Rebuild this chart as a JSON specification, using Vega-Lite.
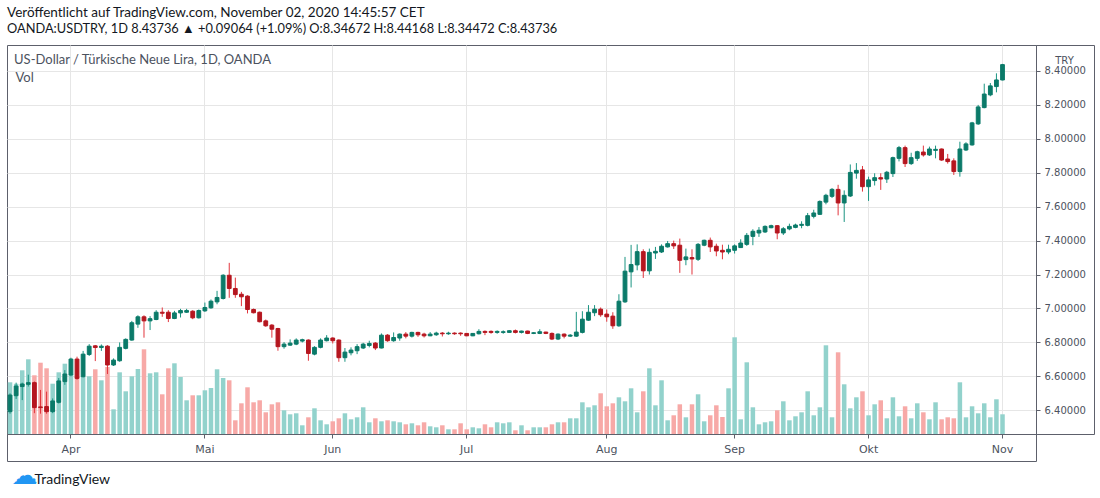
{
"$schema": "https://vega.github.io/schema/vega-lite/v6.json",
"width": 1029, "height": 389,
"autosize": {"type": "none"},
"padding": {"left": 7, "top": 45, "right": 64, "bottom": 64},
"background": "white",
"title": {"text": "Veröffentlicht auf TradingView.com, November 02, 2020 14:45:57 CET", "subtitle": "OANDA:USDTRY, 1D 8.43736 ▲ +0.09064 (+1.09%) O:8.34672 H:8.44168 L:8.34472 C:8.43736", "anchor": "start", "frame": "group", "offset": 9, "font": "Lato", "fontSize": 13.5, "fontWeight": "normal", "color": "#131722", "subtitleFont": "Lato", "subtitleFontSize": 12.8, "subtitleFontWeight": "normal", "subtitleColor": "#131722", "subtitlePadding": 3},
"config": {"view": {"stroke": "#5d606b", "strokeWidth": 1}},
"data": {"values": [
{"d":"2020-03-18","o":6.392,"h":6.50,"l":6.38,"c":6.49,"v":51700},
{"d":"2020-03-19","o":6.486,"h":6.563,"l":6.467,"c":6.543,"v":50300},
{"d":"2020-03-20","o":6.54,"h":6.563,"l":6.46,"c":6.555,"v":63700},
{"d":"2020-03-23","o":6.553,"h":6.61,"l":6.54,"c":6.563,"v":74700},
{"d":"2020-03-24","o":6.563,"h":6.57,"l":6.383,"c":6.416,"v":58700},
{"d":"2020-03-25","o":6.42,"h":6.52,"l":6.38,"c":6.416,"v":71300},
{"d":"2020-03-26","o":6.422,"h":6.51,"l":6.38,"c":6.392,"v":65700},
{"d":"2020-03-27","o":6.392,"h":6.47,"l":6.383,"c":6.455,"v":50300},
{"d":"2020-03-30","o":6.447,"h":6.59,"l":6.44,"c":6.573,"v":61700},
{"d":"2020-03-31","o":6.569,"h":6.637,"l":6.55,"c":6.614,"v":70300},
{"d":"2020-04-01","o":6.608,"h":6.71,"l":6.6,"c":6.702,"v":59700},
{"d":"2020-04-02","o":6.702,"h":6.716,"l":6.58,"c":6.588,"v":57000},
{"d":"2020-04-03","o":6.598,"h":6.75,"l":6.594,"c":6.731,"v":57000},
{"d":"2020-04-06","o":6.729,"h":6.79,"l":6.72,"c":6.778,"v":57700},
{"d":"2020-04-07","o":6.78,"h":6.785,"l":6.69,"c":6.77,"v":64700},
{"d":"2020-04-08","o":6.77,"h":6.788,"l":6.75,"c":6.778,"v":53700},
{"d":"2020-04-09","o":6.778,"h":6.784,"l":6.614,"c":6.667,"v":67000},
{"d":"2020-04-10","o":6.667,"h":6.706,"l":6.661,"c":6.696,"v":24700},
{"d":"2020-04-13","o":6.692,"h":6.8,"l":6.686,"c":6.771,"v":61700},
{"d":"2020-04-14","o":6.765,"h":6.824,"l":6.759,"c":6.818,"v":42700},
{"d":"2020-04-15","o":6.814,"h":6.927,"l":6.81,"c":6.916,"v":57700},
{"d":"2020-04-16","o":6.908,"h":6.96,"l":6.886,"c":6.951,"v":65000},
{"d":"2020-04-17","o":6.951,"h":6.96,"l":6.828,"c":6.927,"v":84700},
{"d":"2020-04-20","o":6.927,"h":6.955,"l":6.873,"c":6.94,"v":60700},
{"d":"2020-04-21","o":6.935,"h":6.99,"l":6.931,"c":6.978,"v":61700},
{"d":"2020-04-22","o":6.978,"h":7.006,"l":6.951,"c":6.972,"v":39700},
{"d":"2020-04-23","o":6.978,"h":6.99,"l":6.92,"c":6.941,"v":65700},
{"d":"2020-04-24","o":6.941,"h":6.986,"l":6.937,"c":6.974,"v":70700},
{"d":"2020-04-27","o":6.974,"h":6.998,"l":6.947,"c":6.988,"v":57000},
{"d":"2020-04-28","o":6.978,"h":6.998,"l":6.974,"c":6.988,"v":33700},
{"d":"2020-04-29","o":6.984,"h":6.99,"l":6.937,"c":6.945,"v":38700},
{"d":"2020-04-30","o":6.945,"h":6.994,"l":6.941,"c":6.988,"v":38700},
{"d":"2020-05-01","o":6.986,"h":7.035,"l":6.98,"c":7.006,"v":43700},
{"d":"2020-05-04","o":7.004,"h":7.053,"l":6.998,"c":7.043,"v":46000},
{"d":"2020-05-05","o":7.039,"h":7.104,"l":7.025,"c":7.065,"v":64700},
{"d":"2020-05-06","o":7.059,"h":7.202,"l":7.053,"c":7.196,"v":56000},
{"d":"2020-05-07","o":7.196,"h":7.269,"l":7.063,"c":7.118,"v":53700},
{"d":"2020-05-08","o":7.118,"h":7.182,"l":7.063,"c":7.082,"v":13700},
{"d":"2020-05-11","o":7.084,"h":7.098,"l":7.014,"c":7.069,"v":30700},
{"d":"2020-05-12","o":7.073,"h":7.078,"l":6.971,"c":6.994,"v":46700},
{"d":"2020-05-13","o":6.994,"h":7.0,"l":6.971,"c":6.975,"v":31700},
{"d":"2020-05-14","o":6.978,"h":6.982,"l":6.918,"c":6.922,"v":33700},
{"d":"2020-05-15","o":6.927,"h":6.935,"l":6.892,"c":6.898,"v":21700},
{"d":"2020-05-18","o":6.902,"h":6.908,"l":6.828,"c":6.878,"v":29700},
{"d":"2020-05-19","o":6.882,"h":6.886,"l":6.751,"c":6.775,"v":31700},
{"d":"2020-05-20","o":6.775,"h":6.802,"l":6.763,"c":6.79,"v":23700},
{"d":"2020-05-21","o":6.784,"h":6.818,"l":6.78,"c":6.796,"v":19700},
{"d":"2020-05-22","o":6.79,"h":6.824,"l":6.784,"c":6.814,"v":20700},
{"d":"2020-05-25","o":6.808,"h":6.822,"l":6.8,"c":6.816,"v":8700},
{"d":"2020-05-26","o":6.814,"h":6.818,"l":6.692,"c":6.735,"v":16700},
{"d":"2020-05-27","o":6.731,"h":6.778,"l":6.724,"c":6.771,"v":25700},
{"d":"2020-05-28","o":6.771,"h":6.824,"l":6.765,"c":6.814,"v":13700},
{"d":"2020-05-29","o":6.81,"h":6.843,"l":6.806,"c":6.826,"v":9700},
{"d":"2020-06-01","o":6.826,"h":6.83,"l":6.794,"c":6.81,"v":12700},
{"d":"2020-06-02","o":6.814,"h":6.818,"l":6.686,"c":6.71,"v":15700},
{"d":"2020-06-03","o":6.71,"h":6.767,"l":6.686,"c":6.743,"v":20700},
{"d":"2020-06-04","o":6.739,"h":6.771,"l":6.724,"c":6.755,"v":14700},
{"d":"2020-06-05","o":6.751,"h":6.79,"l":6.731,"c":6.775,"v":16700},
{"d":"2020-06-08","o":6.767,"h":6.798,"l":6.761,"c":6.79,"v":26700},
{"d":"2020-06-09","o":6.782,"h":6.81,"l":6.771,"c":6.794,"v":11700},
{"d":"2020-06-10","o":6.796,"h":6.802,"l":6.755,"c":6.767,"v":15700},
{"d":"2020-06-11","o":6.767,"h":6.853,"l":6.765,"c":6.843,"v":12700},
{"d":"2020-06-12","o":6.843,"h":6.849,"l":6.804,"c":6.81,"v":13700},
{"d":"2020-06-15","o":6.81,"h":6.859,"l":6.804,"c":6.829,"v":12700},
{"d":"2020-06-16","o":6.826,"h":6.853,"l":6.81,"c":6.849,"v":11700},
{"d":"2020-06-17","o":6.849,"h":6.861,"l":6.824,"c":6.837,"v":9700},
{"d":"2020-06-18","o":6.837,"h":6.863,"l":6.829,"c":6.859,"v":10700},
{"d":"2020-06-19","o":6.859,"h":6.863,"l":6.833,"c":6.845,"v":8700},
{"d":"2020-06-22","o":6.849,"h":6.857,"l":6.829,"c":6.839,"v":11700},
{"d":"2020-06-23","o":6.839,"h":6.861,"l":6.837,"c":6.849,"v":7700},
{"d":"2020-06-24","o":6.845,"h":6.863,"l":6.839,"c":6.855,"v":6700},
{"d":"2020-06-25","o":6.855,"h":6.861,"l":6.835,"c":6.851,"v":8700},
{"d":"2020-06-26","o":6.851,"h":6.863,"l":6.845,"c":6.855,"v":4700},
{"d":"2020-06-29","o":6.855,"h":6.859,"l":6.845,"c":6.851,"v":4700},
{"d":"2020-06-30","o":6.855,"h":6.859,"l":6.839,"c":6.851,"v":10700},
{"d":"2020-07-01","o":6.853,"h":6.855,"l":6.837,"c":6.839,"v":4700},
{"d":"2020-07-02","o":6.839,"h":6.855,"l":6.837,"c":6.853,"v":6700},
{"d":"2020-07-03","o":6.851,"h":6.878,"l":6.847,"c":6.865,"v":5700},
{"d":"2020-07-06","o":6.865,"h":6.871,"l":6.843,"c":6.859,"v":9700},
{"d":"2020-07-07","o":6.865,"h":6.871,"l":6.851,"c":6.859,"v":6700},
{"d":"2020-07-08","o":6.859,"h":6.871,"l":6.851,"c":6.865,"v":11700},
{"d":"2020-07-09","o":6.859,"h":6.871,"l":6.851,"c":6.863,"v":10700},
{"d":"2020-07-10","o":6.859,"h":6.871,"l":6.857,"c":6.869,"v":11700},
{"d":"2020-07-13","o":6.869,"h":6.876,"l":6.853,"c":6.859,"v":3700},
{"d":"2020-07-14","o":6.859,"h":6.869,"l":6.853,"c":6.867,"v":8700},
{"d":"2020-07-15","o":6.867,"h":6.869,"l":6.849,"c":6.853,"v":3700},
{"d":"2020-07-16","o":6.853,"h":6.861,"l":6.849,"c":6.857,"v":6700},
{"d":"2020-07-17","o":6.853,"h":6.878,"l":6.849,"c":6.863,"v":6700},
{"d":"2020-07-20","o":6.861,"h":6.863,"l":6.849,"c":6.853,"v":6700},
{"d":"2020-07-21","o":6.853,"h":6.859,"l":6.814,"c":6.82,"v":9700},
{"d":"2020-07-22","o":6.82,"h":6.853,"l":6.814,"c":6.849,"v":11700},
{"d":"2020-07-23","o":6.849,"h":6.853,"l":6.824,"c":6.837,"v":11700},
{"d":"2020-07-24","o":6.837,"h":6.849,"l":6.833,"c":6.843,"v":15700},
{"d":"2020-07-27","o":6.837,"h":6.98,"l":6.833,"c":6.861,"v":15700},
{"d":"2020-07-28","o":6.859,"h":6.984,"l":6.853,"c":6.937,"v":31700},
{"d":"2020-07-29","o":6.931,"h":7.02,"l":6.927,"c":6.978,"v":26700},
{"d":"2020-07-30","o":6.975,"h":7.02,"l":6.955,"c":6.996,"v":28700},
{"d":"2020-07-31","o":6.996,"h":7.006,"l":6.951,"c":6.963,"v":40700},
{"d":"2020-08-03","o":6.967,"h":6.994,"l":6.922,"c":6.951,"v":27700},
{"d":"2020-08-04","o":6.955,"h":6.978,"l":6.88,"c":6.898,"v":30700},
{"d":"2020-08-05","o":6.898,"h":7.084,"l":6.892,"c":7.043,"v":36700},
{"d":"2020-08-06","o":7.039,"h":7.304,"l":7.033,"c":7.22,"v":32700},
{"d":"2020-08-07","o":7.216,"h":7.375,"l":7.124,"c":7.259,"v":45700},
{"d":"2020-08-10","o":7.257,"h":7.378,"l":7.225,"c":7.335,"v":21700},
{"d":"2020-08-11","o":7.335,"h":7.349,"l":7.18,"c":7.222,"v":42700},
{"d":"2020-08-12","o":7.222,"h":7.353,"l":7.2,"c":7.331,"v":65700},
{"d":"2020-08-13","o":7.327,"h":7.363,"l":7.292,"c":7.337,"v":28700},
{"d":"2020-08-14","o":7.333,"h":7.378,"l":7.327,"c":7.367,"v":53700},
{"d":"2020-08-17","o":7.363,"h":7.398,"l":7.359,"c":7.382,"v":13700},
{"d":"2020-08-18","o":7.382,"h":7.4,"l":7.351,"c":7.369,"v":18700},
{"d":"2020-08-19","o":7.373,"h":7.412,"l":7.21,"c":7.284,"v":29700},
{"d":"2020-08-20","o":7.288,"h":7.353,"l":7.255,"c":7.304,"v":16700},
{"d":"2020-08-21","o":7.3,"h":7.349,"l":7.2,"c":7.292,"v":29700},
{"d":"2020-08-24","o":7.29,"h":7.386,"l":7.28,"c":7.378,"v":39700},
{"d":"2020-08-25","o":7.373,"h":7.406,"l":7.367,"c":7.402,"v":12700},
{"d":"2020-08-26","o":7.402,"h":7.418,"l":7.333,"c":7.363,"v":18700},
{"d":"2020-08-27","o":7.367,"h":7.382,"l":7.308,"c":7.339,"v":28700},
{"d":"2020-08-28","o":7.343,"h":7.376,"l":7.29,"c":7.333,"v":17000},
{"d":"2020-08-31","o":7.333,"h":7.376,"l":7.32,"c":7.349,"v":45700},
{"d":"2020-09-01","o":7.343,"h":7.378,"l":7.324,"c":7.369,"v":96700},
{"d":"2020-09-02","o":7.359,"h":7.408,"l":7.357,"c":7.386,"v":14700},
{"d":"2020-09-03","o":7.378,"h":7.445,"l":7.369,"c":7.431,"v":71700},
{"d":"2020-09-04","o":7.425,"h":7.467,"l":7.373,"c":7.455,"v":26700},
{"d":"2020-09-07","o":7.445,"h":7.48,"l":7.422,"c":7.461,"v":9700},
{"d":"2020-09-08","o":7.451,"h":7.49,"l":7.445,"c":7.484,"v":11700},
{"d":"2020-09-09","o":7.476,"h":7.494,"l":7.473,"c":7.488,"v":12700},
{"d":"2020-09-10","o":7.488,"h":7.492,"l":7.408,"c":7.445,"v":23700},
{"d":"2020-09-11","o":7.445,"h":7.48,"l":7.433,"c":7.47,"v":32700},
{"d":"2020-09-14","o":7.469,"h":7.5,"l":7.461,"c":7.484,"v":13700},
{"d":"2020-09-15","o":7.478,"h":7.5,"l":7.473,"c":7.492,"v":17700},
{"d":"2020-09-16","o":7.49,"h":7.514,"l":7.473,"c":7.496,"v":21700},
{"d":"2020-09-17","o":7.49,"h":7.563,"l":7.484,"c":7.547,"v":42700},
{"d":"2020-09-18","o":7.543,"h":7.582,"l":7.531,"c":7.563,"v":18700},
{"d":"2020-09-21","o":7.555,"h":7.637,"l":7.551,"c":7.631,"v":26700},
{"d":"2020-09-22","o":7.627,"h":7.676,"l":7.614,"c":7.667,"v":88700},
{"d":"2020-09-23","o":7.661,"h":7.71,"l":7.651,"c":7.702,"v":16700},
{"d":"2020-09-24","o":7.702,"h":7.729,"l":7.549,"c":7.622,"v":81700},
{"d":"2020-09-25","o":7.622,"h":7.696,"l":7.51,"c":7.667,"v":49700},
{"d":"2020-09-28","o":7.663,"h":7.849,"l":7.657,"c":7.802,"v":25700},
{"d":"2020-09-29","o":7.798,"h":7.857,"l":7.765,"c":7.814,"v":36700},
{"d":"2020-09-30","o":7.817,"h":7.84,"l":7.689,"c":7.718,"v":42700},
{"d":"2020-10-01","o":7.718,"h":7.777,"l":7.634,"c":7.758,"v":18700},
{"d":"2020-10-02","o":7.754,"h":7.797,"l":7.725,"c":7.771,"v":29700},
{"d":"2020-10-05","o":7.771,"h":7.797,"l":7.699,"c":7.763,"v":33700},
{"d":"2020-10-06","o":7.763,"h":7.811,"l":7.74,"c":7.803,"v":15700},
{"d":"2020-10-07","o":7.795,"h":7.895,"l":7.775,"c":7.889,"v":36700},
{"d":"2020-10-08","o":7.885,"h":7.958,"l":7.867,"c":7.948,"v":17700},
{"d":"2020-10-09","o":7.948,"h":7.96,"l":7.834,"c":7.854,"v":27700},
{"d":"2020-10-12","o":7.854,"h":7.918,"l":7.846,"c":7.889,"v":15700},
{"d":"2020-10-13","o":7.885,"h":7.93,"l":7.87,"c":7.924,"v":30700},
{"d":"2020-10-14","o":7.922,"h":7.96,"l":7.895,"c":7.905,"v":21700},
{"d":"2020-10-15","o":7.905,"h":7.954,"l":7.899,"c":7.94,"v":14700},
{"d":"2020-10-16","o":7.932,"h":7.96,"l":7.885,"c":7.938,"v":31700},
{"d":"2020-10-19","o":7.94,"h":7.943,"l":7.87,"c":7.875,"v":14700},
{"d":"2020-10-20","o":7.881,"h":7.911,"l":7.854,"c":7.866,"v":16700},
{"d":"2020-10-21","o":7.87,"h":7.885,"l":7.787,"c":7.807,"v":15700},
{"d":"2020-10-22","o":7.807,"h":7.983,"l":7.777,"c":7.94,"v":51700},
{"d":"2020-10-23","o":7.934,"h":7.98,"l":7.928,"c":7.97,"v":16700},
{"d":"2020-10-26","o":7.964,"h":8.1,"l":7.96,"c":8.094,"v":27700},
{"d":"2020-10-27","o":8.088,"h":8.2,"l":8.082,"c":8.188,"v":20700},
{"d":"2020-10-28","o":8.184,"h":8.325,"l":8.18,"c":8.264,"v":30700},
{"d":"2020-10-29","o":8.259,"h":8.329,"l":8.251,"c":8.312,"v":16700},
{"d":"2020-10-30","o":8.308,"h":8.386,"l":8.274,"c":8.347,"v":34700},
{"d":"2020-11-02","o":8.34672,"h":8.44168,"l":8.34472,"c":8.43736,"v":19700}
]},
"layer": [
{"mark": {"type": "bar", "width": {"band": 0.74}},
 "encoding": {
  "x": {"field": "d", "type": "ordinal",
        "scale": {"paddingInner": 0, "paddingOuter": 0, "round": false, "domain": ["2020-03-18","2020-03-19","2020-03-20","2020-03-23","2020-03-24","2020-03-25","2020-03-26","2020-03-27","2020-03-30","2020-03-31","2020-04-01","2020-04-02","2020-04-03","2020-04-06","2020-04-07","2020-04-08","2020-04-09","2020-04-10","2020-04-13","2020-04-14","2020-04-15","2020-04-16","2020-04-17","2020-04-20","2020-04-21","2020-04-22","2020-04-23","2020-04-24","2020-04-27","2020-04-28","2020-04-29","2020-04-30","2020-05-01","2020-05-04","2020-05-05","2020-05-06","2020-05-07","2020-05-08","2020-05-11","2020-05-12","2020-05-13","2020-05-14","2020-05-15","2020-05-18","2020-05-19","2020-05-20","2020-05-21","2020-05-22","2020-05-25","2020-05-26","2020-05-27","2020-05-28","2020-05-29","2020-06-01","2020-06-02","2020-06-03","2020-06-04","2020-06-05","2020-06-08","2020-06-09","2020-06-10","2020-06-11","2020-06-12","2020-06-15","2020-06-16","2020-06-17","2020-06-18","2020-06-19","2020-06-22","2020-06-23","2020-06-24","2020-06-25","2020-06-26","2020-06-29","2020-06-30","2020-07-01","2020-07-02","2020-07-03","2020-07-06","2020-07-07","2020-07-08","2020-07-09","2020-07-10","2020-07-13","2020-07-14","2020-07-15","2020-07-16","2020-07-17","2020-07-20","2020-07-21","2020-07-22","2020-07-23","2020-07-24","2020-07-27","2020-07-28","2020-07-29","2020-07-30","2020-07-31","2020-08-03","2020-08-04","2020-08-05","2020-08-06","2020-08-07","2020-08-10","2020-08-11","2020-08-12","2020-08-13","2020-08-14","2020-08-17","2020-08-18","2020-08-19","2020-08-20","2020-08-21","2020-08-24","2020-08-25","2020-08-26","2020-08-27","2020-08-28","2020-08-31","2020-09-01","2020-09-02","2020-09-03","2020-09-04","2020-09-07","2020-09-08","2020-09-09","2020-09-10","2020-09-11","2020-09-14","2020-09-15","2020-09-16","2020-09-17","2020-09-18","2020-09-21","2020-09-22","2020-09-23","2020-09-24","2020-09-25","2020-09-28","2020-09-29","2020-09-30","2020-10-01","2020-10-02","2020-10-05","2020-10-06","2020-10-07","2020-10-08","2020-10-09","2020-10-12","2020-10-13","2020-10-14","2020-10-15","2020-10-16","2020-10-19","2020-10-20","2020-10-21","2020-10-22","2020-10-23","2020-10-26","2020-10-27","2020-10-28","2020-10-29","2020-10-30","2020-11-02","2020-11-03","2020-11-04","2020-11-05","2020-11-06","2020-11-09"]},
        "axis": {"orient": "bottom", "values": ["2020-04-01","2020-05-01","2020-06-01","2020-07-01","2020-08-03","2020-09-01","2020-10-01","2020-11-02"], "bandPosition": 0.5, "labelExpr": "datum.value == '2020-04-01' ? 'Apr' : datum.value == '2020-05-01' ? 'Mai' : datum.value == '2020-06-01' ? 'Jun' : datum.value == '2020-07-01' ? 'Jul' : datum.value == '2020-08-03' ? 'Aug' : datum.value == '2020-09-01' ? 'Sep' : datum.value == '2020-10-01' ? 'Okt' : 'Nov'", "labelFont": "DejaVu Sans", "labelFontSize": 11, "labelColor": "#4c525e", "labelAngle": 0, "labelPadding": 5, "labelOverlap": false, "tickSize": 4, "tickColor": "#5d606b", "domainColor": "#5d606b", "grid": true, "gridColor": "#e6e6e6", "title": "TradingView", "titleX": 27, "titleY": 45, "titleAlign": "left", "titleBaseline": "middle", "titleFont": "Lato", "titleFontSize": 14, "titleFontWeight": "normal", "titleColor": "#131722"}},
  "y": {"field": "v", "type": "quantitative", "scale": {"domain": [0, 389000], "nice": false, "zero": true},
        "axis": {"orient": "left", "offset": -1087, "values": [-27000, 0, 389000], "tickSize": 58, "tickColor": "#5d606b", "domainColor": "#5d606b", "labels": false, "grid": false, "title": "Vol", "titleAngle": 0, "titleX": -1079, "titleY": 32, "titleAlign": "left", "titleBaseline": "middle", "titleFont": "Lato", "titleFontSize": 13, "titleFontWeight": "normal", "titleColor": "#4c525e"}},
  "color": {"condition": {"test": "datum.c >= datum.o", "value": "#92d2cc"}, "value": "#f7a9a7"}
 }},
{"mark": {"type": "rule", "strokeWidth": 1},
 "encoding": {
  "x": {"field": "d", "type": "ordinal",
        "axis": {"orient": "bottom", "offset": 27, "values": ["2020-03-18"], "bandPosition": 0, "tickSize": -27, "tickColor": "#5d606b", "domainColor": "#5d606b", "labels": false, "grid": false, "title": "☁", "titleX": 17, "titleY": 22, "titleAlign": "center", "titleBaseline": "alphabetic", "titleFont": "DejaVu Sans", "titleFontSize": 26, "titleFontWeight": "normal", "titleColor": "#2196f3"}},
  "y": {"field": "l", "type": "quantitative", "scale": {"domain": [6.2603, 8.553], "nice": false, "zero": false},
        "axis": {"orient": "right", "values": [6.4, 6.6, 6.8, 7.0, 7.2, 7.4, 7.6, 7.8, 8.0, 8.2, 8.4], "format": ".5f", "labelOverlap": false, "labelFont": "DejaVu Sans", "labelFontSize": 10, "labelColor": "#4c525e", "tickSize": 4, "labelPadding": 4, "tickColor": "#5d606b", "domainColor": "#5d606b", "grid": true, "gridColor": "#e6e6e6", "title": null}},
  "y2": {"field": "h"},
  "color": {"condition": {"test": "datum.c >= datum.o", "value": "#1a9482"}, "value": "#e2353d"}
 }},
{"mark": {"type": "bar", "width": {"band": 0.62}, "strokeWidth": 1},
 "encoding": {
  "x": {"field": "d", "type": "ordinal", "axis": null},
  "y": {"field": "o", "type": "quantitative", "scale": {"domain": [6.2603, 8.553], "nice": false, "zero": false}, "axis": null},
  "y2": {"field": "c"},
  "fill": {"condition": {"test": "datum.c >= datum.o", "value": "#0b7a69"}, "value": "#b5161f"},
  "stroke": {"condition": {"test": "datum.c >= datum.o", "value": "#0b7a69"}, "value": "#b5161f"}
 }},
{"data": {"values": [{"label": "US-Dollar / Türkische Neue Lira, 1D, OANDA"}]},
 "mark": {"type": "text", "align": "left", "baseline": "middle", "dx": 4, "font": "Lato", "fontSize": 13, "color": "#4c525e"},
 "encoding": {
  "x": {"datum": "2020-03-18", "type": "ordinal",
        "axis": {"orient": "bottom", "offset": 27, "values": ["2020-11-09"], "bandPosition": 1, "tickSize": -27, "tickColor": "#5d606b", "domain": false, "labels": false, "grid": false, "title": "TRY", "titleX": 1057, "titleY": -401, "titleAlign": "center", "titleBaseline": "middle", "titleFont": "DejaVu Sans", "titleFontSize": 10, "titleFontWeight": "normal", "titleColor": "#4c525e"}},
  "y": {"datum": 8.464, "type": "quantitative", "scale": {"domain": [6.2603, 8.553], "nice": false, "zero": false}, "axis": null},
  "text": {"field": "label"}
 }}
],
"resolve": {"scale": {"y": "independent"}, "axis": {"x": "independent", "y": "independent"}}
}
